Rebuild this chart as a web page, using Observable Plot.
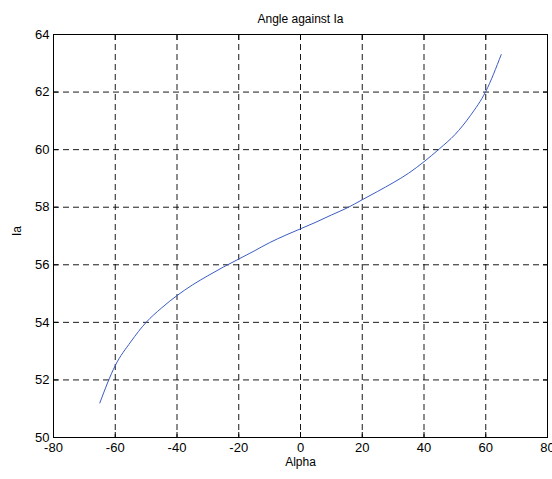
<!DOCTYPE html>
<html>
<head>
<meta charset="utf-8">
<script src="https://cdn.jsdelivr.net/npm/d3@7"></script>
<script src="https://cdn.jsdelivr.net/npm/@observablehq/plot@0.6"></script>
<style>
  html, body { margin: 0; padding: 0; background: #fff; }
  #chart svg { display: block; }
</style>
</head>
<body>
<div id="chart"></div>
<script>
const alpha = [-65,-60,-55,-50,-45,-40,-35,-30,-25,-20,-15,-10,-5,0,5,10,15,20,25,30,35,40,45,50,55,60,65];
const ia = [51.2,52.5,53.32,54.0,54.5,54.93,55.3,55.62,55.92,56.2,56.48,56.77,57.02,57.25,57.48,57.73,57.97,58.26,58.55,58.85,59.18,59.58,60.03,60.52,61.18,62.02,63.3];
const xTicks = [-80,-60,-40,-20,0,20,40,60,80];
const yTicks = [50,52,54,56,58,60,62,64];
const title = "Angle against Ia";
const xLabel = "Alpha";
const yLabel = "Ia";

const data = alpha.map((a, i) => ({alpha: a, ia: ia[i]}));
const font = "'Liberation Sans', Arial, Helvetica, sans-serif";

const chart = Plot.plot({
  width: 552,
  height: 479,
  marginLeft: 53,
  marginRight: 5,
  marginTop: 34,
  marginBottom: 42,
  style: {fontFamily: font, fontSize: "13px", color: "#000", background: "#fff"},
  x: {domain: [-80, 80], ticks: xTicks},
  y: {domain: [50, 64], ticks: yTicks},
  marks: [
    Plot.ruleX(xTicks.slice(1, -1), {stroke: "#000", strokeWidth: 1, strokeDasharray: "6,4", strokeOpacity: 0.9}),
    Plot.ruleY(yTicks.slice(1, -1), {stroke: "#000", strokeWidth: 1, strokeDasharray: "6,4", strokeOpacity: 0.9}),
    Plot.frame({stroke: "#000", strokeWidth: 1}),
    Plot.axisX(xTicks, {anchor: "bottom", tickSize: -5, tickPadding: 10, tickFormat: d => String(d), label: null, fontSize: 13, stroke: "#000"}),
    Plot.axisX(xTicks, {anchor: "top", tickSize: -5, tickFormat: () => "", label: null, stroke: "#000"}),
    Plot.axisY(yTicks, {anchor: "left", tickSize: -5, tickPadding: 9, tickFormat: d => String(d), label: null, fontSize: 13, stroke: "#000"}),
    Plot.axisY(yTicks, {anchor: "right", tickSize: -5, tickFormat: () => "", label: null, stroke: "#000"}),
    Plot.line(data, {x: "alpha", y: "ia", stroke: "#3a5cc4", strokeWidth: 1, curve: "monotone-x"}),
    Plot.text([title], {frameAnchor: "top", dy: -20, text: d => d, fontSize: 12, fill: "#000"}),
    Plot.text([xLabel], {frameAnchor: "bottom", dy: 28, text: d => d, fontSize: 12, fill: "#000"}),
    Plot.text([yLabel], {frameAnchor: "left", dx: -36, rotate: -90, text: d => d, fontSize: 12, fill: "#000"})
  ]
});
document.getElementById("chart").appendChild(chart);
</script>
</body>
</html>
